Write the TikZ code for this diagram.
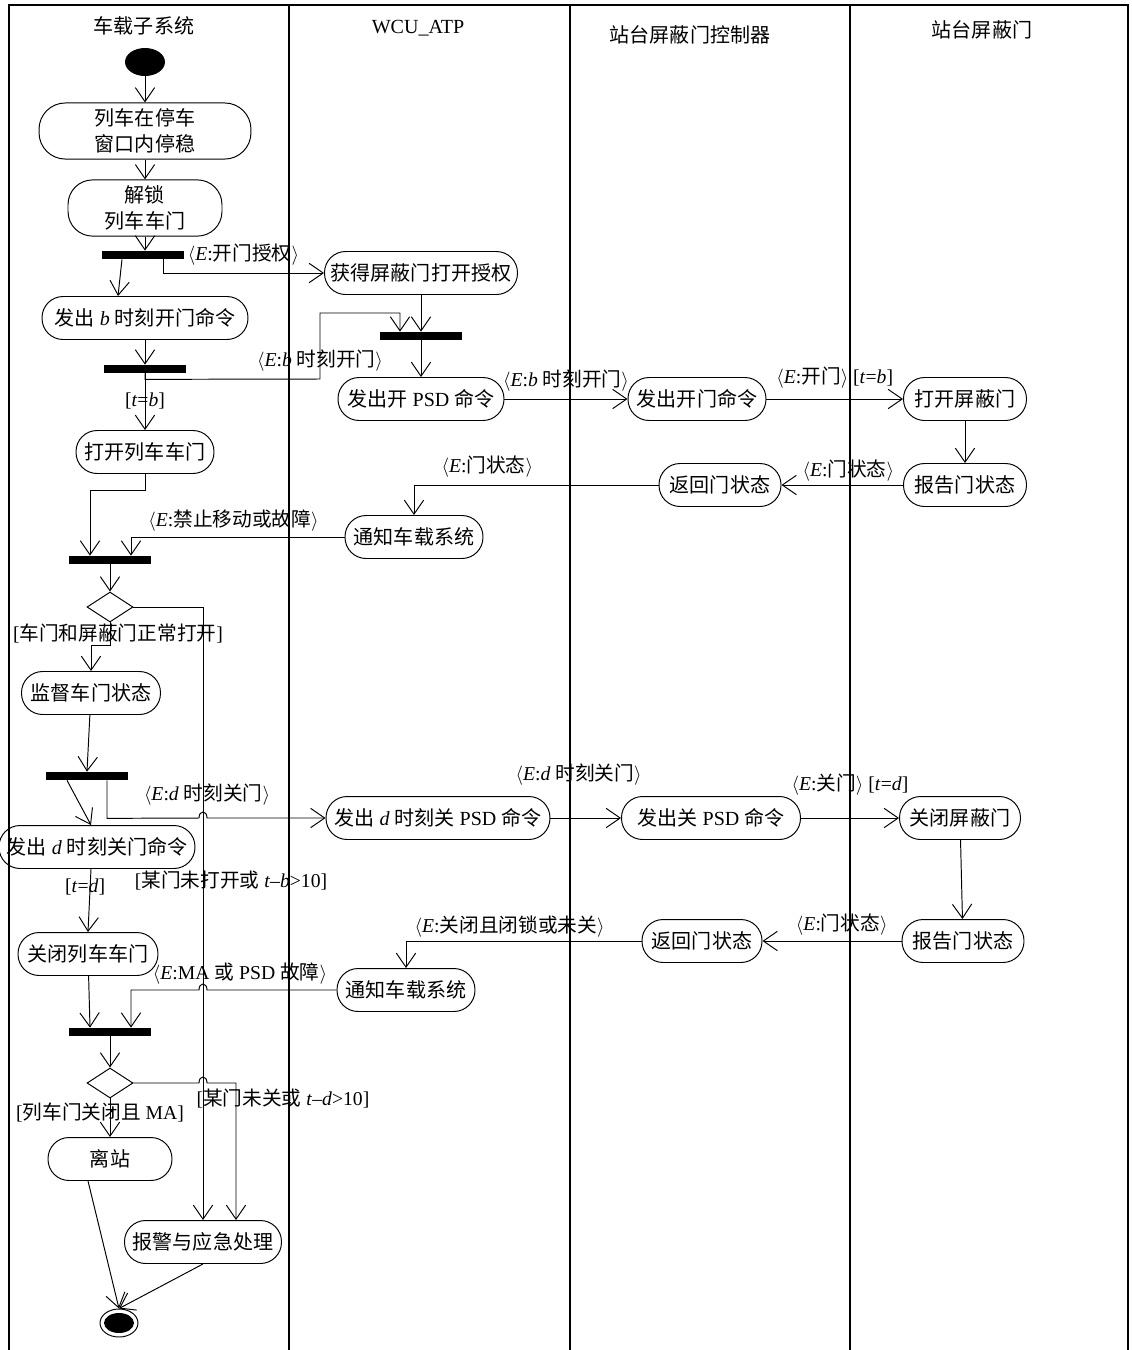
\documentclass[tikz,border=0pt]{standalone}
\usepackage{fontspec}
\setmainfont{Liberation Serif}
\newfontfamily\cjkfont{Noto Sans CJK SC}
\XeTeXinterchartokenstate=1
\newXeTeXintercharclass\CjkClass
\newcount\cjkcnt
\cjkcnt="4E00
\loop \XeTeXcharclass\cjkcnt=\CjkClass \advance\cjkcnt by 1 \ifnum\cjkcnt<"A000 \repeat
\XeTeXinterchartoks 0 \CjkClass = {\begingroup\cjkfont}
\XeTeXinterchartoks 4095 \CjkClass = {\begingroup\cjkfont}
\XeTeXinterchartoks \CjkClass 0 = {\endgroup}
\XeTeXinterchartoks \CjkClass 4095 = {\endgroup}
\usepackage{tikz}
\usetikzlibrary{shapes.geometric, arrows.meta}
\tikzset{Activity/.style={%
    shape=rectangle,%
    draw,%
    rounded corners=12pt,%
    minimum height=0.86cm,%
    inner xsep=1pt,%
    align=center,%
    line width=0.55pt,%
    font=\fontsize{11.4pt}{14.7pt}\selectfont,%
}}
\tikzset{StartState/.style={%
    shape=ellipse,%
    fill=black,%
    minimum width=0.8cm,%
    minimum height=0.56cm,%
    inner sep=0pt,%
}}
\tikzset{EndState/.style={%
    shape=ellipse,%
    draw,%
    line width=0.55pt,%
    minimum width=0.76cm,%
    minimum height=0.56cm,%
    inner sep=0pt,%
    path picture={\fill[black] (path picture bounding box.center) ellipse (0.3cm and 0.2cm);},%
}}
\tikzset{SyncBar/.style={%
    shape=rectangle,%
    fill=black,%
    minimum width=1.66cm,%
    minimum height=0.16cm,%
    inner sep=0pt,%
}}
\tikzset{Branch/.style={%
    shape=diamond,%
    draw,%
    line width=0.55pt,%
    minimum width=0.92cm,%
    minimum height=0.6cm,%
    aspect=1.5,%
    inner sep=0pt,%
}}
\tikzset{Flow/.style={%
    -{Straight Barb[length=8pt,width=11pt]},%
    line width=0.55pt,%
}}
\tikzset{Guard/.style={%
    inner sep=1pt,%
    font=\fontsize{11.2pt}{13pt}\selectfont,%
}}
\tikzset{LaneTitle/.style={%
    inner sep=1pt,%
    font=\fontsize{11.4pt}{14pt}\selectfont,%
}}
\tikzset{Lane/.style={line width=0.6pt}}
\tikzset{LaneSep/.style={line width=1.2pt}}
\newcommand{\Evt}[1]{$\langle$\textit{E}:#1$\rangle$}
\newcommand{\HopR}[2]{-- (#1-4,#2) .. controls (#1-4,#2-8) and (#1+4,#2-8) .. (#1+4,#2)}
\newcommand{\HopL}[2]{-- (#1+4,#2) .. controls (#1+4,#2-8) and (#1-4,#2-8) .. (#1-4,#2)}

\begin{document}
\begin{tikzpicture}[x=0.02cm, y=-0.02cm]
    \useasboundingbox (0,0) rectangle (1132,1350);
    \draw[Lane] (9,1350) -- (9,5) -- (1128,5) -- (1128,1350);
    \draw[LaneSep] (289,5) -- (289,1350);
    \draw[LaneSep] (570,5) -- (570,1350);
    \draw[LaneSep] (850,5) -- (850,1350);

    \node[LaneTitle] (h1) at (144,26) {车载子系统};
    \node[LaneTitle] (h2) at (418,28) {WCU\_ATP};
    \node[LaneTitle] (h3) at (690,35) {站台屏蔽门控制器};
    \node[LaneTitle] (h4) at (982,30) {站台屏蔽门};

    \node[StartState] (start) at (145,62) {};
    \node[Activity, minimum width=4.24cm, minimum height=1.1cm, rounded corners=15pt] (s1) at (145,131) {列车在停车\\窗口内停稳};
    \node[Activity, minimum width=3.08cm, minimum height=1.04cm, rounded corners=14pt] (s2) at (145,208) {解锁\\列车车门};
    \node[SyncBar] (bar1) at (143,255) {};
    \node[Activity, minimum width=4.12cm] (s3) at (145,318) {发出 \textit{b} 时刻开门命令};
    \node[SyncBar] (bar2) at (145,369) {};
    \node[Activity, minimum width=2.76cm] (s4) at (145,452) {打开列车车门};
    \node[SyncBar] (bar3) at (110,560) {};
    \node[Branch] (dia1) at (110,607) {};
    \node[Activity, minimum width=2.78cm] (s5) at (91,693) {监督车门状态};
    \node[SyncBar] (bar4) at (87,776) {};
    \node[Activity, minimum width=3.92cm] (s6) at (97,847) {发出 \textit{d} 时刻关门命令};
    \node[Activity, minimum width=2.8cm] (s7) at (88,954) {关闭列车车门};
    \node[SyncBar] (bar5) at (110,1032) {};
    \node[Branch] (dia2) at (110,1083) {};
    \node[Activity, minimum width=2.48cm] (s8) at (110,1159) {离站};
    \node[Activity, minimum width=3.14cm] (s9) at (203,1242) {报警与应急处理};
    \node[EndState] (stop) at (119,1323) {};

    \node[Activity, minimum width=3.86cm] (w1) at (421,273) {获得屏蔽门打开授权};
    \node[SyncBar] (bar6) at (421,336) {};
    \node[Activity, minimum width=3.32cm] (w2) at (421,399) {发出开 PSD 命令};
    \node[Activity, minimum width=2.76cm] (w3) at (414,537) {通知车载系统};
    \node[Activity, minimum width=4.48cm] (w4) at (438,818) {发出 \textit{d} 时刻关 PSD 命令};
    \node[Activity, minimum width=2.76cm] (w5) at (406,990) {通知车载系统};

    \node[Activity, minimum width=2.76cm] (c1) at (697,399) {发出开门命令};
    \node[Activity, minimum width=2.44cm] (c2) at (720,485) {返回门状态};
    \node[Activity, minimum width=3.58cm] (c3) at (711,818) {发出关 PSD 命令};
    \node[Activity, minimum width=2.4cm] (c4) at (702,941) {返回门状态};

    \node[Activity, minimum width=2.46cm] (p1) at (965,399) {打开屏蔽门};
    \node[Activity, minimum width=2.46cm] (p2) at (965,485) {报告门状态};
    \node[Activity, minimum width=2.42cm] (p3) at (960,818) {关闭屏蔽门};
    \node[Activity, minimum width=2.44cm] (p4) at (963,941) {报告门状态};

    \draw[Flow] (start) -- (s1);
    \draw[Flow] (s1) -- (s2);
    \draw[Flow] (s2) -- (s2 |- bar1.north);
    \draw[Flow] ([xshift=-0.42cm]bar1.south) -- ([xshift=-0.54cm]s3.north);
    \draw[Flow] ([xshift=0.4cm]bar1.south) |- node[Guard, pos=0.75, above=3pt] {\Evt{开门授权}} (w1.west);
    \draw[Flow] (s3) -- (s3 |- bar2.north);
    \draw[Flow] (bar2) -- node[Guard, pos=0.48] {[\textit{t}=\textit{b}]} (s4);
    \draw[Flow] (bar2.south) -- ++(0,6) -- (320,379) node[Guard, above=3pt] {\Evt{\textit{b} 时刻开门}} -- (320,313) -- (400,313) -- ([xshift=-0.42cm]bar6.north);
    \draw[Flow] (w1) -- (w1 |- bar6.north);
    \draw[Flow] (bar6) -- (w2);
    \draw[Flow] (w2) -- node[Guard, above=3pt] {\Evt{\textit{b} 时刻开门}} (c1);
    \draw[Flow] (c1) -- node[Guard, above=5pt] {\Evt{开门} [\textit{t}=\textit{b}]} (p1);
    \draw[Flow] (p1) -- (p2);
    \draw[Flow] (p2) -- node[Guard, pos=0.45, above=1pt] {\Evt{门状态}} (c2);
    \draw[Flow] (c2) -| node[Guard, pos=0.35, above=3pt] {\Evt{门状态}} (w3);
    \draw[Flow] (w3) -| node[Guard, pos=0.26, above=2pt] {\Evt{禁止移动或故障}} ([xshift=0.42cm]bar3.north);
    \draw[Flow] (s4.south) -- ++(0,16) -| ([xshift=-0.4cm]bar3.north);
    \draw[Flow] (bar3) -- (dia1);
    \draw[Flow] (dia1.south) -- ++(0,23) node[Guard, pos=0.5, xshift=0.16cm] {[车门和屏蔽门正常打开]} -| (s5.north);
    \draw[Flow] (dia1.east) -- (dia1.east -| s9.north) -- node[Guard, pos=0.447, xshift=0.56cm] {[某门未打开或 \textit{t}\textendash\textit{b}>10]} (s9.north);
    \draw[Flow] (s5) -- (bar4.north);
    \draw[Flow] ([xshift=-0.4cm]bar4.south) -- ([xshift=-0.12cm]s6.north);
    \draw[Flow] ([xshift=0.4cm]bar4.south) -- ++(0,38) \HopR{203}{818} node[Guard, above=6pt] {\Evt{\textit{d} 时刻关门}} -- (w4.west);
    \draw[Flow] (w4) -- node[Guard, pos=0.4, above=0.6cm] {\Evt{\textit{d} 时刻关门}} (c3);
    \draw[Flow] (c3) -- node[Guard, above=0.4cm] {\Evt{关门} [\textit{t}=\textit{d}]} (p3);
    \draw[Flow] (p3) -- (p4);
    \draw[Flow] (p4) -- node[Guard, pos=0.43, above=2pt] {\Evt{门状态}} (c4);
    \draw[Flow] (c4) -| node[Guard, pos=0.28, above=1pt] {\Evt{关闭且闭锁或未关}} (w5);
    \draw[Flow] (w5.west) \HopL{203}{990} node[Guard, above=2pt, xshift=0.82cm] {\Evt{MA 或 PSD 故障}} -| ([xshift=0.42cm]bar5.north);
    \draw[Flow] ([xshift=-0.12cm]s6.south) -- node[Guard, pos=0.28, xshift=-0.1cm] {[\textit{t}=\textit{d}]} (s7.north);
    \draw[Flow] (s7) -- ([xshift=-0.4cm]bar5.north);
    \draw[Flow] (bar5) -- (dia2);
    \draw[Flow] (dia2) -- node[Guard, pos=0.375, xshift=-0.2cm] {[列车门关闭且 MA]} (s8);
    \draw[Flow] (dia2.east) \HopR{203}{1083} -- (236,1083) node[Guard, below=2pt, xshift=0.94cm] {[某门未关或 \textit{t}\textendash\textit{d}>10]} -- ([xshift=0.66cm]s9.north);
    \draw[Flow] ([xshift=-0.44cm]s8.south) -- (stop.north);
    \draw[Flow] (s9.south) -- (stop.north);
\end{tikzpicture}
\end{document}
